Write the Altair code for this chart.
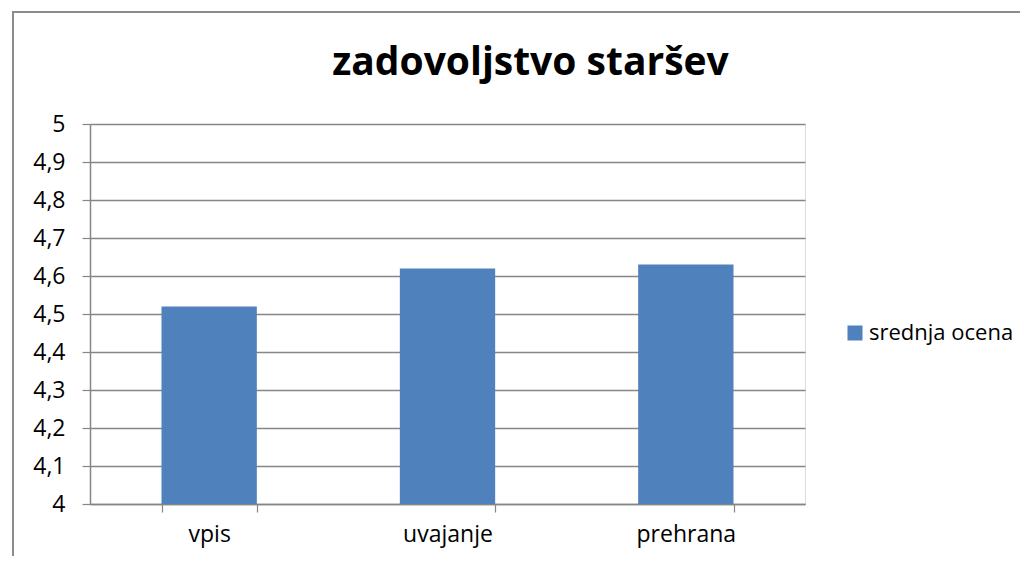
import altair as alt
import pandas as pd

categories = ["vpis", "uvajanje", "prehrana"]
values = [4.52, 4.62, 4.63]
series_name = "srednja ocena"
y_ticks = [4.0, 4.1, 4.2, 4.3, 4.4, 4.5, 4.6, 4.7, 4.8, 4.9, 5.0]

df = pd.DataFrame({"kategorija": categories, "vrednost": values, "serija": [series_name] * 3})

FONT = "Open Sans"
GRID = "#868686"
BAR = "#4F81BD"
FS = 23

bars = alt.Chart(df).mark_bar(color=BAR, clip=True).encode(
    x=alt.X("kategorija:N", sort=categories, title=None,
            scale=alt.Scale(paddingInner=0.6, paddingOuter=0.3),
            axis=alt.Axis(labelAngle=0, labelFont=FONT, labelFontSize=FS, labelColor="#000000",
                          labelPadding=11, tickBand="extent", tickSize=8, tickColor=GRID,
                          domainColor=GRID, domainWidth=1.5, tickWidth=1.2, grid=False)),
    y=alt.Y("vrednost:Q", title=None,
            scale=alt.Scale(domain=[4, 5], nice=False, zero=False),
            axis=alt.Axis(values=y_ticks, labelExpr="replace(format(datum.value, '~g'), '.', ',')",
                          labelFont=FONT, labelFontSize=FS, labelColor="#000000", labelPadding=17,
                          tickSize=8, tickColor=GRID, domainColor=GRID, domainWidth=1.5,
                          gridColor=GRID, gridWidth=1.3, tickWidth=1.2)),
    y2=alt.datum(4),
    color=alt.Color("serija:N", scale=alt.Scale(range=[BAR]),
                    legend=alt.Legend(title=None, orient="none", legendX=754, legendY=198,
                                      padding=0,
                                      symbolType="square", symbolSize=225, symbolStrokeWidth=0,
                                      labelFont=FONT, labelFontSize=22, labelColor="#000000",
                                      labelOffset=3)),
)

frame = alt.Chart(pd.DataFrame({"a": [0]})).mark_rect(
    fill=None, stroke="#8C8C8C", strokeWidth=2, clip=False
).encode(x=alt.value(-77), x2=alt.value(960), y=alt.value(-112), y2=alt.value(460))

chart = alt.layer(frame, bars).properties(
    width=715, height=380,
    title=alt.TitleParams("zadovoljstvo staršev", font=FONT, fontSize=39, fontWeight="bold",
                          color="#000000", anchor="middle", offset=-72, dx=83),
    padding={"left": 82, "top": 116, "right": 215, "bottom": 52},
    autosize=alt.AutoSizeParams(type="none"),
).configure_view(stroke=None).configure(background="white")

chart.save("out.html", embed_options={"renderer": "svg", "actions": False})
